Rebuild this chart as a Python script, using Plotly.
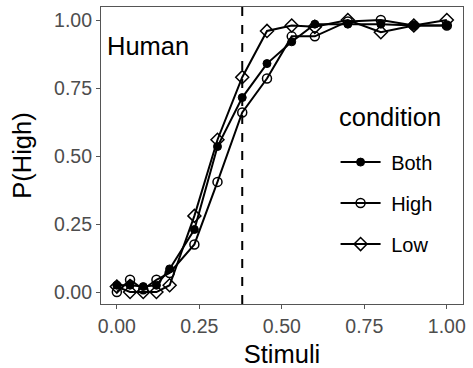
import plotly.graph_objects as go

stimuli = [0.0, 0.04, 0.08, 0.12, 0.16, 0.235, 0.305, 0.38, 0.455, 0.53, 0.6, 0.7, 0.8, 0.9, 1.0]
p_both = [0.025, 0.025, 0.02, 0.025, 0.085, 0.23, 0.535, 0.715, 0.84, 0.92, 0.985, 0.985, 0.985, 0.98, 0.98]
p_high = [0.0, 0.045, 0.01, 0.045, 0.07, 0.175, 0.405, 0.66, 0.785, 0.94, 0.94, 0.995, 1.0, 0.98, 0.98]
p_low = [0.02, 0.0, 0.0, 0.0, 0.025, 0.28, 0.56, 0.79, 0.96, 0.98, 0.975, 1.0, 0.955, 0.98, 1.0]
conditions = ["Both", "High", "Low"]
boundary = 0.38
tick_vals = [0, 0.25, 0.5, 0.75, 1.0]
tick_text = ["0.00", "0.25", "0.50", "0.75", "1.00"]

series = [(p_both, "circle", 8, 1), (p_high, "circle-open", 9, 1.5), (p_low, "diamond-open", 10, 1.5)]
font = "Liberation Sans, Arial, sans-serif"

fig = go.Figure()
for name, (vals, sym, size, lw) in zip(conditions, series):
    fig.add_trace(go.Scatter(
        x=stimuli, y=vals, name="\u00a0" + name, mode="lines+markers", legendgroup=name,
        line=dict(color="black", width=2),
        marker=dict(symbol=sym, size=size, color="black", line=dict(color="black", width=lw)),
    ))

fig.add_vline(x=boundary, line=dict(color="black", width=2, dash="dash"))
fig.add_annotation(x=0.094, y=0.904, text="Human", showarrow=False,
                   font=dict(family=font, size=25.5, color="black"))
fig.add_annotation(xref="paper", yref="paper", x=0.653, y=0.629, xanchor="left", yanchor="middle",
                   text="condition", showarrow=False,
                   font=dict(family=font, size=25.5, color="black"))

axis_common = dict(showgrid=False, zeroline=False, showline=True, mirror=True, automargin=False,
                   linecolor="#555555", linewidth=1.2, ticks="outside", ticklen=4,
                   tickcolor="#555555", tickwidth=1.2,
                   tickfont=dict(family=font, size=19.5, color="#4d4d4d"))

fig.update_xaxes(range=[-0.048, 1.049], tickvals=tick_vals, ticktext=tick_text,
                 title=dict(text="Stimuli", font=dict(family=font, size=25.5, color="black")),
                 **axis_common)
fig.update_yaxes(range=[-0.044, 1.048], tickvals=tick_vals, ticktext=tick_text,
                 title=dict(text="P(High)", font=dict(family=font, size=25.5, color="black")),
                 **axis_common)

fig.update_layout(
    width=473, height=368,
    margin=dict(l=101, r=10, t=7, b=64),
    plot_bgcolor="white", paper_bgcolor="white",
    font=dict(family=font),
    legend=dict(x=0.648, y=0.5435, xanchor="left", yanchor="top",
                bgcolor="rgba(0,0,0,0)",
                font=dict(family=font, size=20, color="black"),
                tracegroupgap=12, itemwidth=40),
)

fig.write_html("out.html", config={"displayModeBar": False},
               post_script="document.body.style.margin='0';")
